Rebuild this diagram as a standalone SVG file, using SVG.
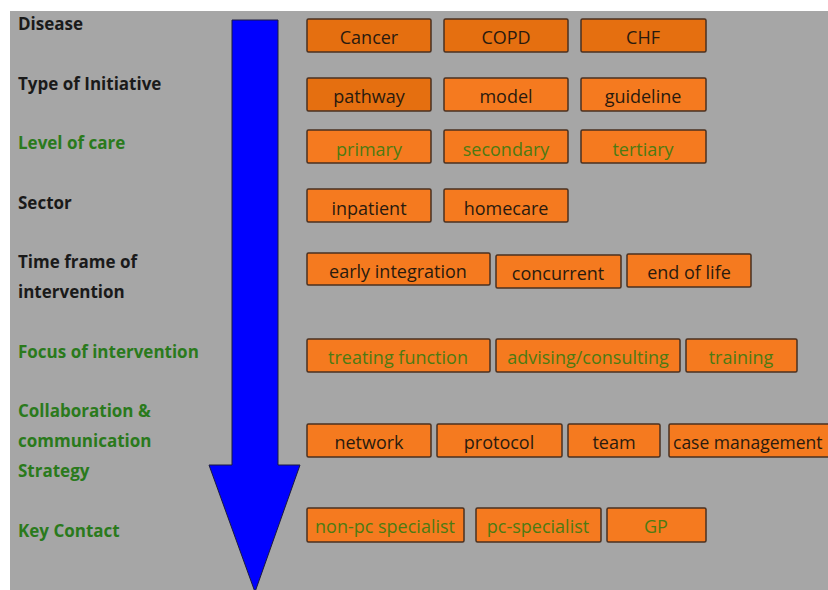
<svg xmlns="http://www.w3.org/2000/svg" width="828" height="590" viewBox="0 0 828 590">
<style>
.lbl{font-family:"Open Sans","Liberation Sans",sans-serif;font-weight:bold;font-size:17px}
.blk{fill:#1a1a1a}
.grn{fill:#2a7a1c}
.box{fill:#f57a1f;stroke:#4a3020;stroke-width:1.5}
.dark{fill:#e56f10}
.bt{font-family:"Open Sans","Liberation Sans",sans-serif;font-size:18px;text-anchor:middle}
.bk{fill:#2a1a0e}
.bg{fill:#4d7a12}
</style>
<rect x="0" y="0" width="828" height="590" fill="#ffffff"/>
<rect x="10" y="11" width="818" height="579" fill="#a6a6a6"/>
<g id="arrow">
<polygon points="232,20 278,20 278,465 300,465 255,592 209,465 232,465" fill="#0000ff" stroke="#1a1a40" stroke-width="1"/>
</g>
<g id="labels">
<text class="lbl blk" x="18" y="30">Disease</text>
<text class="lbl blk" x="18" y="90">Type of Initiative</text>
<text class="lbl grn" x="18" y="149">Level of care</text>
<text class="lbl blk" x="18" y="209">Sector</text>
<text class="lbl blk" x="18" y="268">Time frame of</text>
<text class="lbl blk" x="18" y="298">intervention</text>
<text class="lbl grn" x="18" y="358">Focus of intervention</text>
<text class="lbl grn" x="18" y="417">Collaboration &amp;</text>
<text class="lbl grn" x="18" y="447">communication</text>
<text class="lbl grn" x="18" y="477">Strategy</text>
<text class="lbl grn" x="18" y="537">Key Contact</text>
</g>
<g id="n-cancer"><rect class="box dark" x="307" y="19" width="124" height="33" rx="1.5"/><text class="bt bk" x="369" y="44">Cancer</text></g>
<g id="n-copd"><rect class="box dark" x="444" y="19" width="124" height="33" rx="1.5"/><text class="bt bk" x="506" y="44">COPD</text></g>
<g id="n-chf"><rect class="box dark" x="581" y="19" width="125" height="33" rx="1.5"/><text class="bt bk" x="643" y="44">CHF</text></g>
<g id="n-pathway"><rect class="box dark" x="307" y="78" width="124" height="33" rx="1.5"/><text class="bt bk" x="369" y="103">pathway</text></g>
<g id="n-model"><rect class="box" x="444" y="78" width="124" height="33" rx="1.5"/><text class="bt bk" x="506" y="103">model</text></g>
<g id="n-guideline"><rect class="box" x="581" y="78" width="125" height="33" rx="1.5"/><text class="bt bk" x="643" y="103">guideline</text></g>
<g id="n-primary"><rect class="box" x="307" y="130" width="124" height="33" rx="1.5"/><text class="bt bg" x="369" y="156">primary</text></g>
<g id="n-secondary"><rect class="box" x="444" y="130" width="124" height="33" rx="1.5"/><text class="bt bg" x="506" y="156">secondary</text></g>
<g id="n-tertiary"><rect class="box" x="581" y="130" width="125" height="33" rx="1.5"/><text class="bt bg" x="643" y="156">tertiary</text></g>
<g id="n-inpatient"><rect class="box" x="307" y="189" width="124" height="33" rx="1.5"/><text class="bt bk" x="369" y="215">inpatient</text></g>
<g id="n-homecare"><rect class="box" x="444" y="189" width="124" height="33" rx="1.5"/><text class="bt bk" x="506" y="215">homecare</text></g>
<g id="n-early"><rect class="box" x="307" y="253" width="183" height="32" rx="1.5"/><text class="bt bk" x="398" y="278">early integration</text></g>
<g id="n-concurrent"><rect class="box" x="496" y="255" width="125" height="33" rx="1.5"/><text class="bt bk" x="558" y="280">concurrent</text></g>
<g id="n-endoflife"><rect class="box" x="627" y="254" width="124" height="33" rx="1.5"/><text class="bt bk" x="689" y="279">end of life</text></g>
<g id="n-treating"><rect class="box" x="307" y="339" width="183" height="33" rx="1.5"/><text class="bt bg" x="398" y="364">treating function</text></g>
<g id="n-advising"><rect class="box" x="496" y="339" width="184" height="33" rx="1.5"/><text class="bt bg" x="588" y="364">advising/consulting</text></g>
<g id="n-training"><rect class="box" x="686" y="339" width="111" height="33" rx="1.5"/><text class="bt bg" x="741" y="364">training</text></g>
<g id="n-network"><rect class="box" x="307" y="424" width="124" height="33" rx="1.5"/><text class="bt bk" x="369" y="449">network</text></g>
<g id="n-protocol"><rect class="box" x="437" y="424" width="125" height="33" rx="1.5"/><text class="bt bk" x="499" y="449">protocol</text></g>
<g id="n-team"><rect class="box" x="568" y="424" width="92" height="33" rx="1.5"/><text class="bt bk" x="614" y="449">team</text></g>
<g id="n-case"><rect class="box" x="669" y="424" width="175" height="33" rx="1.5"/><text class="bt bk" x="673" y="449" style="text-anchor:start;font-size:17.5px">case management</text></g>
<g id="n-nonpc"><rect class="box" x="307" y="508" width="157" height="34" rx="1.5"/><text class="bt bg" x="385" y="533">non-pc specialist</text></g>
<g id="n-pc"><rect class="box" x="476" y="508" width="125" height="34" rx="1.5"/><text class="bt bg" x="538" y="533">pc-specialist</text></g>
<g id="n-gp"><rect class="box" x="607" y="508" width="99" height="34" rx="1.5"/><text class="bt bg" x="656" y="533">GP</text></g>
<g id="connectors"></g>
</svg>
